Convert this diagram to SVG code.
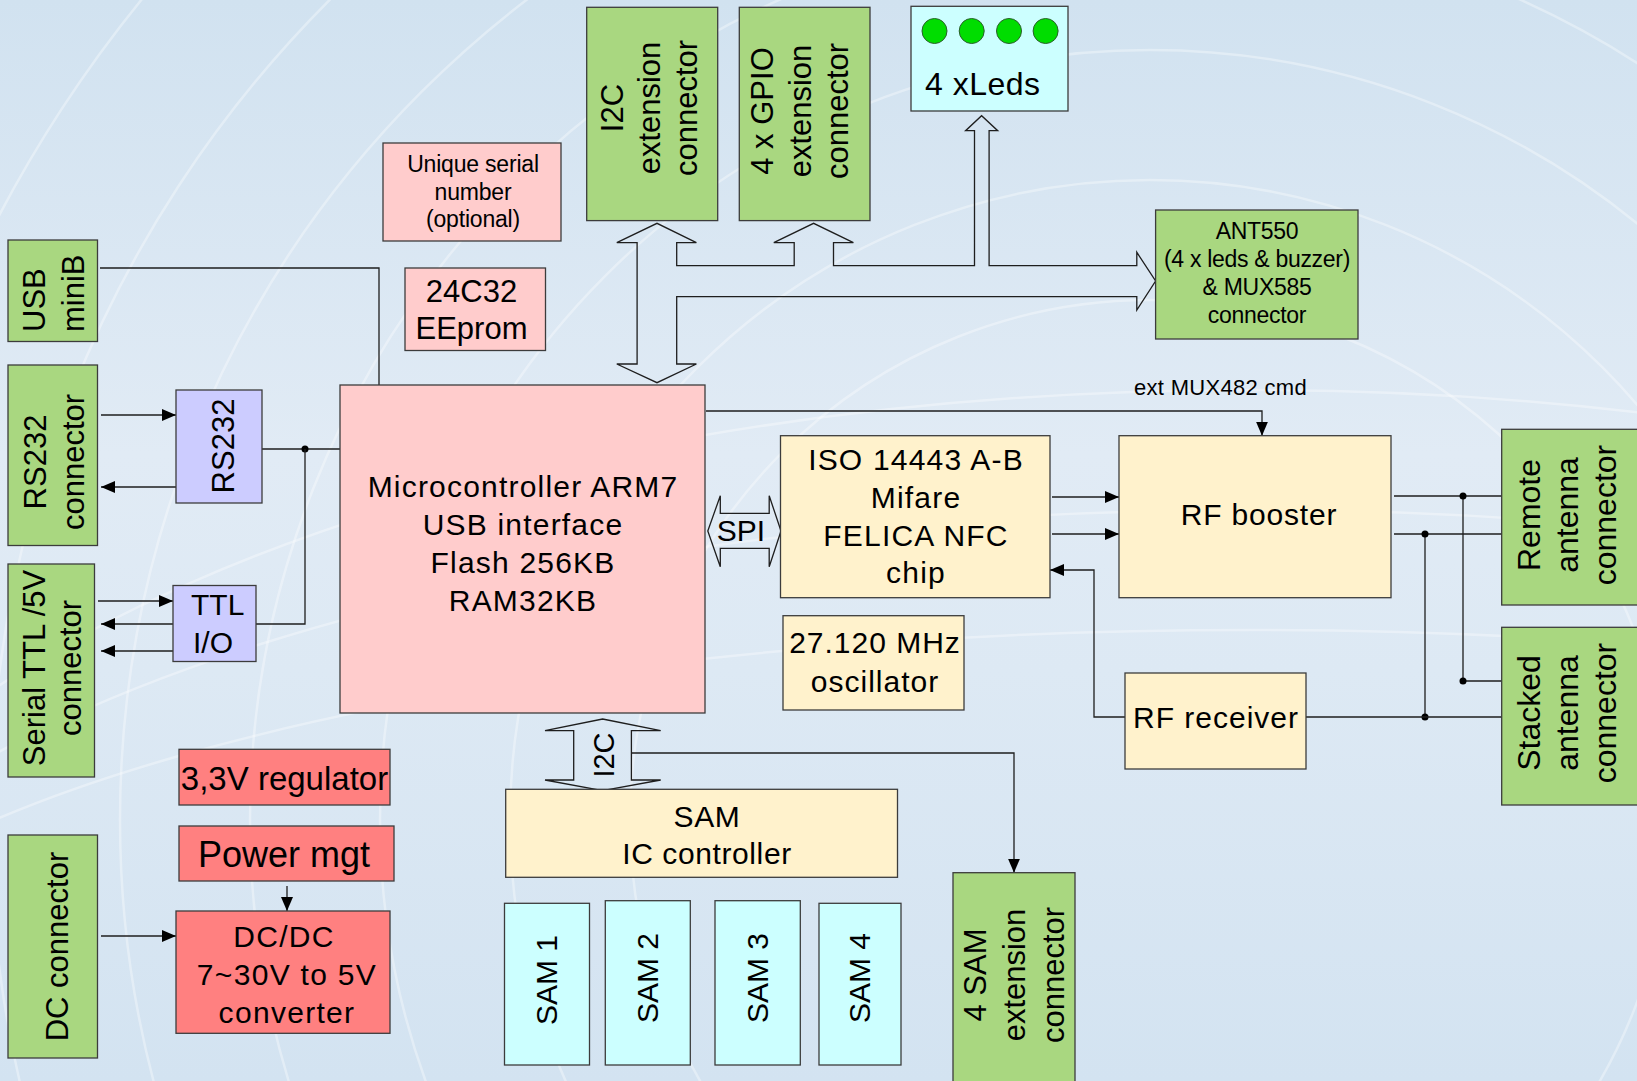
<svg xmlns="http://www.w3.org/2000/svg" width="1637" height="1081" viewBox="0 0 1637 1081">
<defs>
  <linearGradient id="bg" x1="0" y1="0" x2="0" y2="1">
    <stop offset="0" stop-color="#d1e2f0"/>
    <stop offset="0.42" stop-color="#e1ebf5"/>
    <stop offset="0.62" stop-color="#dde9f4"/>
    <stop offset="1" stop-color="#d3e3f1"/>
  </linearGradient>
  <marker id="ah" markerWidth="14" markerHeight="12" refX="14" refY="6" orient="auto" markerUnits="userSpaceOnUse">
    <path d="M0,0 L14,6 L0,12 z" fill="#000"/>
  </marker>
  <style>
    .box{stroke:#3c3c3c;stroke-width:1.3}
    .gr{fill:#a9d780}
    .pk{fill:#ffcccc}
    .ye{fill:#fff2cc}
    .cy{fill:#ccffff}
    .lv{fill:#ccccff}
    .rd{fill:#ff8080}
    text{font-family:"Liberation Sans",Arial,Helvetica,sans-serif;fill:#000}
    .t31{font-size:31px}
    .t30{font-size:30px;letter-spacing:1.2px}
    .t22{font-size:22px}
    .mid{text-anchor:middle}
    .ln{fill:none;stroke:#1e1e1e;stroke-width:1.3}
    .arr{marker-end:url(#ah)}
    .hollow{fill:none;stroke:#1e1e1e;stroke-width:1.3;stroke-linejoin:miter}
    .dot{fill:#000}
    .arc{fill:none;stroke:#ffffff;stroke-opacity:0.35;stroke-width:2.5}
  </style>
</defs>

<g id="background">
  <rect x="0" y="0" width="1637" height="1081" fill="url(#bg)"/>
  <circle class="arc" cx="1150" cy="820" r="520"/>
  <circle class="arc" cx="1150" cy="820" r="640"/>
  <circle class="arc" cx="1150" cy="820" r="770"/>
  <circle class="arc" cx="1150" cy="820" r="900"/>
  <circle class="arc" cx="1150" cy="820" r="1030"/>
  <circle class="arc" cx="1150" cy="820" r="1160"/>
  <circle class="arc" cx="1150" cy="820" r="1300"/>
  <ellipse class="arc" cx="1250" cy="1050" rx="1500" ry="420" stroke-opacity="0.25"/>
  <ellipse class="arc" cx="1250" cy="1050" rx="1500" ry="540" stroke-opacity="0.25"/>
  <ellipse class="arc" cx="1250" cy="1050" rx="1500" ry="660" stroke-opacity="0.25"/>
</g>

<g id="connectors">
  <path class="ln" d="M100,268 H379 V385"/>
  <path class="ln arr" d="M101,415 H176"/>
  <path class="ln arr" d="M176,487 H101"/>
  <path class="ln" d="M262,449 H340"/>
  <circle class="dot" cx="305" cy="449" r="3.5"/>
  <path class="ln" d="M305,449 V624 H256"/>
  <path class="ln arr" d="M98,601 H173"/>
  <path class="ln arr" d="M173,624 H101"/>
  <path class="ln arr" d="M173,651 H101"/>
  <path class="ln arr" d="M706,411 H1262 V435.7"/>
  <path class="ln arr" d="M1052,497 H1119"/>
  <path class="ln arr" d="M1052,534 H1119"/>
  <path class="ln arr" d="M1125,717 H1094 V570 H1050"/>
  <path class="ln" d="M1394,496 H1504"/>
  <path class="ln" d="M1394,534 H1504"/>
  <path class="ln" d="M1463,496 V681 H1504"/>
  <circle class="dot" cx="1463" cy="496" r="3.5"/>
  <circle class="dot" cx="1463" cy="681" r="3.5"/>
  <path class="ln" d="M1425,534 V717"/>
  <circle class="dot" cx="1425" cy="534" r="3.5"/>
  <circle class="dot" cx="1425" cy="717" r="3.5"/>
  <path class="ln" d="M1306,717 H1504"/>
  <path class="ln arr" d="M631.4,753 H1014 V872.7"/>
  <path class="ln arr" d="M287,886 V911"/>
  <path class="ln arr" d="M101,936 H176"/>
  <polygon class="hollow" points="616.8,242.7 657,223.3 696.4,242.7 676.7,242.7 676.7,265.7 794.2,265.7 794.2,242.7 773.8,242.7 813.6,223.3 853.4,242.7 833.5,242.7 833.5,265.7 974.5,265.7 974.5,130.7 965.6,130.7 981.6,115.7 997.7,130.7 989.1,130.7 989.1,265.7 1136.8,265.7 1136.8,252.3 1155.6,281 1136.8,310 1136.8,296.7 676.7,296.7 676.7,364 696.4,364 657,382.7 616.8,364 637.1,364 637.1,242.7"/>
  <polygon class="hollow" points="707.8,531 720.3,495.7 720.3,513.3 769.2,513.3 769.2,495.7 781,531 769.2,566.7 769.2,548.3 720.3,548.3 720.3,566.7"/>
  <text class="t30 mid" x="741" y="541" style="letter-spacing:0">SPI</text>
  <polygon class="hollow" points="602.6,719 660.7,730.7 631.4,730.7 631.4,780 660.7,780 602.6,790.7 545,780 573.7,780 573.7,730.7 545,730.7"/>
  <text class="mid" font-size="29" transform="translate(603,755) rotate(-90)" x="0" y="11">I2C</text>
  <text class="t22" x="1134" y="395" style="letter-spacing:0.3px">ext MUX482 cmd</text>
</g>

<g id="usb-minib">
  <rect class="box gr" x="8" y="240" width="89.5" height="101.5"/>
  <text class="t31" transform="translate(0,332) rotate(-90)"><tspan x="0" y="45">USB</tspan><tspan x="0" y="84">miniB</tspan></text>
</g>
<g id="rs232-connector">
  <rect class="box gr" x="8" y="365" width="89.5" height="180.5"/>
  <text class="t31 mid" transform="translate(0,462) rotate(-90)"><tspan x="0" y="46">RS232</tspan><tspan x="0" y="84">connector</tspan></text>
</g>
<g id="serial-ttl-connector">
  <rect class="box gr" x="8" y="564" width="86.5" height="213"/>
  <text class="t31 mid" transform="translate(0,668) rotate(-90)"><tspan x="0" y="44.5">Serial TTL /5V</tspan><tspan x="0" y="80.5">connector</tspan></text>
</g>
<g id="dc-connector">
  <rect class="box gr" x="8" y="835" width="89.5" height="223"/>
  <text class="t31 mid" transform="translate(0,946.5) rotate(-90)" x="0" y="68">DC connector</text>
</g>
<g id="rs232">
  <rect class="box lv" x="176" y="390" width="86" height="113"/>
  <text class="t31 mid" transform="translate(0,446) rotate(-90)" x="0" y="234">RS232</text>
</g>
<g id="ttl-io">
  <rect class="box lv" x="173" y="585.5" width="83" height="76"/>
  <text class="t30" style="letter-spacing:0" x="191" y="615">TTL</text>
  <text class="t30" style="letter-spacing:0" x="193" y="653">I/O</text>
</g>
<g id="unique-serial">
  <rect class="box pk" x="383" y="143" width="178" height="98"/>
  <text class="mid" font-size="23" style="letter-spacing:-0.2px"><tspan x="473" y="172">Unique serial</tspan><tspan x="473" y="200">number</tspan><tspan x="473" y="227">(optional)</tspan></text>
</g>
<g id="eeprom">
  <rect class="box pk" x="405" y="268" width="140.5" height="82.5"/>
  <text class="t31 mid"><tspan x="471.5" y="301.5">24C32</tspan><tspan x="471.5" y="338.5">EEprom</tspan></text>
</g>
<g id="mcu">
  <rect class="box pk" x="340" y="385" width="365" height="328"/>
  <text class="t30 mid"><tspan x="523" y="497">Microcontroller ARM7</tspan><tspan x="523" y="535">USB interface</tspan><tspan x="523" y="573">Flash 256KB</tspan><tspan x="523" y="611">RAM32KB</tspan></text>
</g>
<g id="i2c-ext">
  <rect class="box gr" x="586.7" y="7.3" width="131" height="213.3"/>
  <text class="t31 mid" transform="translate(0,108) rotate(-90)"><tspan x="0" y="622.7">I2C</tspan><tspan x="0" y="660">extension</tspan><tspan x="0" y="697.3">connector</tspan></text>
</g>
<g id="gpio-ext">
  <rect class="box gr" x="739.3" y="7.3" width="130.7" height="213.3"/>
  <text class="t31 mid" transform="translate(0,111) rotate(-90)"><tspan x="0" y="773.3">4 x GPIO</tspan><tspan x="0" y="810.5">extension</tspan><tspan x="0" y="848">connector</tspan></text>
</g>
<g id="leds">
  <rect class="box cy" x="911" y="6.3" width="157" height="104.7"/>
  <circle cx="934.5" cy="31" r="12.5" fill="#00dd00" stroke="#2b5e2b" stroke-width="1"/>
  <circle cx="971.7" cy="31" r="12.5" fill="#00dd00" stroke="#2b5e2b" stroke-width="1"/>
  <circle cx="1009" cy="31" r="12.5" fill="#00dd00" stroke="#2b5e2b" stroke-width="1"/>
  <circle cx="1045.6" cy="31" r="12.5" fill="#00dd00" stroke="#2b5e2b" stroke-width="1"/>
  <text font-size="32" x="925" y="95" style="letter-spacing:0.5px">4 xLeds</text>
</g>
<g id="ant550">
  <rect class="box gr" x="1155.6" y="210" width="202.4" height="129"/>
  <text class="mid" font-size="23" style="letter-spacing:-0.3px"><tspan x="1257" y="239">ANT550</tspan><tspan x="1257" y="267">(4 x leds &amp; buzzer)</tspan><tspan x="1257" y="295">&amp; MUX585</tspan><tspan x="1257" y="323">connector</tspan></text>
</g>
<g id="iso14443">
  <rect class="box ye" x="780.5" y="435.7" width="269.5" height="162"/>
  <text class="t30 mid"><tspan x="916" y="470">ISO 14443 A-B</tspan><tspan x="916" y="508">Mifare</tspan><tspan x="916" y="546">FELICA NFC</tspan><tspan x="916" y="583">chip</tspan></text>
</g>
<g id="oscillator">
  <rect class="box ye" x="783" y="615.7" width="181" height="94.3"/>
  <text class="t30 mid" style="letter-spacing:1px"><tspan x="875" y="653">27.120 MHz</tspan><tspan x="875" y="692">oscillator</tspan></text>
</g>
<g id="rf-booster">
  <rect class="box ye" x="1119" y="435.7" width="272" height="162"/>
  <text class="t30 mid" style="letter-spacing:0.8px" x="1259" y="525">RF booster</text>
</g>
<g id="rf-receiver">
  <rect class="box ye" x="1125" y="673" width="181" height="96"/>
  <text class="t30 mid" style="letter-spacing:1px" x="1216" y="728">RF receiver</text>
</g>
<g id="remote-antenna">
  <rect class="box gr" x="1501.7" y="429.3" width="150" height="175.7"/>
  <text class="mid" font-size="32" transform="translate(0,515) rotate(-90)"><tspan x="0" y="1540">Remote</tspan><tspan x="0" y="1578">antenna</tspan><tspan x="0" y="1616">connector</tspan></text>
</g>
<g id="stacked-antenna">
  <rect class="box gr" x="1501.7" y="627.3" width="150" height="177.7"/>
  <text class="mid" font-size="32" transform="translate(0,713) rotate(-90)"><tspan x="0" y="1540">Stacked</tspan><tspan x="0" y="1578">antenna</tspan><tspan x="0" y="1616">connector</tspan></text>
</g>
<g id="regulator">
  <rect class="box rd" x="179" y="749.3" width="211" height="55.7"/>
  <text class="mid" font-size="33" x="284.5" y="790">3,3V regulator</text>
</g>
<g id="power-mgt">
  <rect class="box rd" x="179" y="826" width="215" height="55"/>
  <text class="mid" font-size="36" x="284" y="867">Power mgt</text>
</g>
<g id="dcdc">
  <rect class="box rd" x="176" y="911" width="214" height="122.3"/>
  <text class="t30 mid" style="letter-spacing:1.3px"><tspan x="284" y="947">DC/DC</tspan><tspan x="287" y="985">7~30V to 5V</tspan><tspan x="287" y="1023">converter</tspan></text>
</g>
<g id="sam-ic">
  <rect class="box ye" x="505.7" y="789.3" width="391.8" height="88"/>
  <text class="t30 mid" style="letter-spacing:0.6px"><tspan x="707" y="827">SAM</tspan><tspan x="707" y="864">IC controller</tspan></text>
</g>
<g id="sam1">
  <rect class="box cy" x="504.5" y="903.3" width="85" height="161.7"/>
  <text class="mid" font-size="30" transform="translate(0,980) rotate(-90)" x="0" y="557">SAM 1</text>
</g>
<g id="sam2">
  <rect class="box cy" x="605.3" y="900.7" width="85" height="164.3"/>
  <text class="mid" font-size="30" transform="translate(0,978) rotate(-90)" x="0" y="658">SAM 2</text>
</g>
<g id="sam3">
  <rect class="box cy" x="715" y="900.7" width="85.3" height="164.3"/>
  <text class="mid" font-size="30" transform="translate(0,978) rotate(-90)" x="0" y="767.5">SAM 3</text>
</g>
<g id="sam4">
  <rect class="box cy" x="819" y="903.3" width="82" height="161.7"/>
  <text class="mid" font-size="30" transform="translate(0,978) rotate(-90)" x="0" y="869.5">SAM 4</text>
</g>
<g id="sam-ext">
  <rect class="box gr" x="953" y="872.7" width="122" height="220"/>
  <text class="t31 mid" transform="translate(0,975) rotate(-90)"><tspan x="0" y="986">4 SAM</tspan><tspan x="0" y="1025">extension</tspan><tspan x="0" y="1064">connector</tspan></text>
</g>
</svg>
